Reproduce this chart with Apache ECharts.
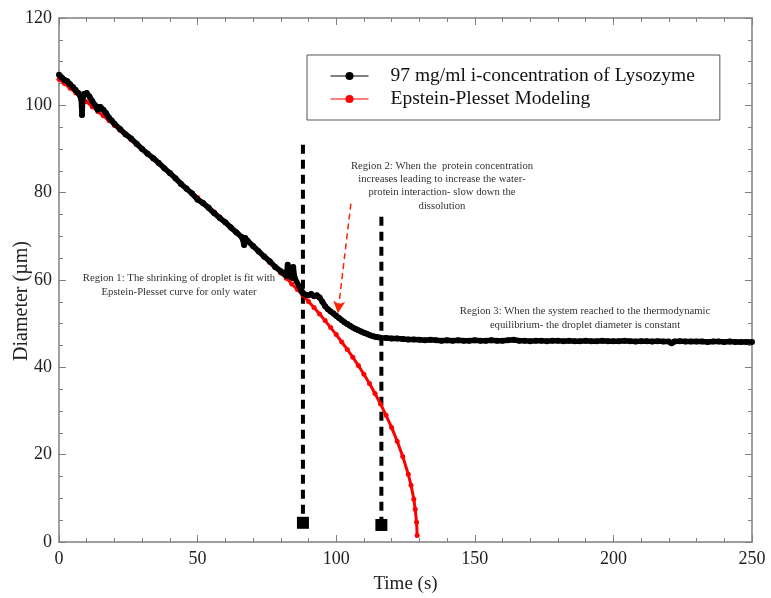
<!DOCTYPE html>
<html>
<head>
<meta charset="utf-8">
<script src="https://cdn.jsdelivr.net/npm/echarts@6/dist/echarts.min.js"></script>
<style>
html,body{margin:0;padding:0;background:#fff;}
#chart{width:771px;height:598px;}
</style>
</head>
<body>
<div id="chart"></div>
<script>
// Epstein-Plesset model (red)
var epTime = [0,2,4,6,8,10,12,14,16,18,20,22,24,26,28,30,32,34,36,38,40,42,44,46,48,50,52,54,56,58,60,62,64,66,68,70,72,74,76,78,80,82,84,86,88,90,92,94,96,98,100,102,104,106,108,110,112,114,116,118,120,122,124,126,127,128,128.5,129,129.2];
var epDiam = [106.0,105.0,103.9,102.9,101.8,100.8,99.7,98.6,97.6,96.5,95.4,94.3,93.2,92.1,91.0,89.9,88.8,87.7,86.6,85.5,84.4,83.3,82.2,81.1,80.0,78.9,77.8,76.7,75.6,74.4,73.3,72.2,71.0,69.9,68.7,67.6,66.4,65.2,64.0,62.8,61.6,60.4,59.1,57.8,56.5,55.1,53.7,52.2,50.7,49.1,47.5,45.8,44.1,42.3,40.4,38.4,36.3,34.0,31.6,29.0,26.2,23.1,19.6,15.5,13.0,9.8,7.5,4.5,1.5];

// Measured: 97 mg/ml lysozyme (black)
var lysoTime = [0,1,2,3,4,5,6,7,8,8.3,8.6,9,10,11,12,13,14,14.5,15,16,17,18,19,20,22,24,26,28,30,32,34,36,38,40,42,44,46,48,50,52,54,56,58,60,62,64,66,66.8,67.2,68,70,72,74,76,78,80,81,82,82.5,83,84,84.5,85,87.5,88,89,90,91,92,93,94,95,96,97,98,99,100,101,102,103,104,105,106,107,108,109,110,111,112,113,114,115,116,118,120,122,124,126,128,130,132,134,136,138,140,142,144,146,148,150,152,154,156,158,160,162,164,166,168,170,172,174,176,178,180,182,184,186,188,190,192,194,196,198,200,202,204,206,208,210,212,214,216,218,220,221,222,224,226,228,230,232,234,236,238,240,242,244,246,248,250];
var lysoDiam = [107.0,106.4,105.8,105.5,104.8,104.2,103.5,102.8,101.5,97.8,101.8,102.6,102.8,102.0,101.0,100.0,99.0,99.6,99.6,99.0,98.2,97.2,96.5,95.8,94.6,93.4,92.4,91.2,90.0,88.9,87.9,86.8,85.6,84.5,83.3,82.0,80.9,79.8,78.4,77.6,76.5,75.3,74.2,73.2,72.0,70.9,69.8,68.0,69.6,69.0,67.8,66.6,65.4,64.3,63.0,62.0,61.5,61.0,63.5,61.0,60.5,63.0,60.5,57.5,57.0,56.6,56.5,56.8,56.3,56.5,56.0,55.0,54.0,53.3,52.8,52.3,51.8,51.3,50.8,50.3,49.9,49.5,49.1,48.8,48.5,48.2,47.9,47.7,47.4,47.2,47.0,46.9,46.8,46.7,46.6,46.6,46.5,46.4,46.4,46.3,46.2,46.3,46.2,46.1,46.2,46.1,46.2,46.1,46.1,46.2,46.1,46.1,46.2,46.1,46.1,46.2,46.3,46.1,46.1,46.0,46.1,46.1,46.0,46.1,46.1,46.0,46.1,46.0,46.0,46.1,46.0,46.0,46.1,46.0,46.0,46.0,46.1,46.0,45.9,46.0,46.0,45.9,46.0,45.9,45.9,45.5,45.9,46.0,45.9,45.9,45.9,45.9,45.8,45.9,45.9,45.8,45.9,45.8,45.8,45.8,45.8];

// Region boundary markers
var boundaryTime = [88, 116.3];
var boundaryTop = [91, 74.5];
var boundaryBottom = [4.4, 3.9];

// Arrow (region 2 pointer)
var arrowFrom = [105.3, 77.5];
var arrowTo = [100.6, 52.4];

var legendNames = ['97 mg/ml i-concentration of Lysozyme', 'Epstein-Plesset Modeling'];
var xTicks = [0, 50, 100, 150, 200, 250];
var yTicks = [0, 20, 40, 60, 80, 100, 120];

function zip(a, b) { return a.map(function (v, i) { return [v, b[i]]; }); }

var FONT = 'Liberation Serif';
var chart = echarts.init(document.getElementById('chart'));

var series = [];
boundaryTime.forEach(function (t, i) {
  series.push({
    type: 'line', silent: true, symbol: 'none', z: 3,
    data: [[t, boundaryTop[i]], [t, boundaryBottom[i]]],
    lineStyle: { color: '#000', width: 4, type: [9, 6] }
  });
});
series.push({
  type: 'scatter', silent: true, z: 4,
  symbol: 'rect', symbolSize: 12,
  itemStyle: { color: '#000', opacity: 1 },
  data: zip(boundaryTime, boundaryBottom)
});
series.push({
  name: legendNames[1], type: 'line', z: 5,
  data: zip(epTime, epDiam),
  symbol: 'circle', symbolSize: 5, showSymbol: true, showAllSymbol: true,
  itemStyle: { color: '#ff0000' },
  lineStyle: { color: '#ff0000', width: 3 }
});
series.push({
  name: legendNames[0], type: 'line', z: 6,
  data: zip(lysoTime, lysoDiam),
  symbol: 'circle', symbolSize: 6, showSymbol: true, showAllSymbol: true,
  itemStyle: { color: '#000' },
  lineStyle: { color: '#000', width: 5.5, join: 'round' },
  markLine: {
    silent: true, symbol: ['none', 'arrow'], symbolSize: [9, 12],
    label: { show: false },
    lineStyle: { color: '#ff2200', width: 1.5, type: [6, 4] },
    data: [[{ coord: arrowFrom }, { coord: arrowTo }]]
  }
});

var tickStyle = { color: '#808080', width: 1 };
function axisBase(extra) {
  return Object.assign({
    axisLine: { show: true, onZero: false, lineStyle: { color: '#808080', width: 1.5 } },
    splitLine: { show: false }
  }, extra);
}

chart.setOption({
  backgroundColor: '#fff',
  animation: false,
  grid: { left: 59, right: 19, top: 18, bottom: 56, containLabel: false, outerBoundsMode: 'none' },
  legend: {
    data: legendNames,
    orient: 'vertical',
    left: 307, top: 55,
    padding: [10, 25, 10, 23],
    itemWidth: 38, itemHeight: 10, itemGap: 1,
    borderColor: '#555', borderWidth: 1,
    backgroundColor: '#fff',
    lineStyle: { width: 1 },
    textStyle: { fontFamily: FONT, fontSize: 19.5, color: '#111', lineHeight: 22, padding: [0, 0, 0, 17] }
  },
  xAxis: [
    axisBase({
      type: 'value', min: 0, max: 250, interval: 50, position: 'bottom',
      name: 'Time (s)', nameLocation: 'middle', nameGap: 33,
      nameTextStyle: { fontFamily: FONT, fontSize: 19, color: '#222' },
      axisTick: { inside: true, length: 7, lineStyle: tickStyle },
      minorTick: { show: true, splitNumber: 5, length: 4, lineStyle: tickStyle },
      axisLabel: { fontFamily: FONT, fontSize: 18, color: '#222', margin: 8,
        formatter: function (v) { return xTicks.indexOf(v) >= 0 ? String(v) : ''; } }
    }),
    axisBase({
      type: 'value', min: 0, max: 250, interval: 50, position: 'top',
      axisTick: { inside: true, length: 7, lineStyle: tickStyle },
      minorTick: { show: true, splitNumber: 5, length: 4, lineStyle: tickStyle },
      axisLabel: { show: false }
    })
  ],
  yAxis: [
    axisBase({
      type: 'value', min: 0, max: 120, interval: 20, position: 'left',
      axisTick: { inside: true, length: 7, lineStyle: tickStyle },
      minorTick: { show: true, splitNumber: 4, length: 4, lineStyle: tickStyle },
      axisLabel: { fontFamily: FONT, fontSize: 18, color: '#222', margin: 7,
        formatter: function (v) { return yTicks.indexOf(v) >= 0 ? String(v) : ''; } }
    }),
    axisBase({
      type: 'value', min: 0, max: 120, interval: 20, position: 'right',
      axisTick: { inside: true, length: 7, lineStyle: tickStyle },
      minorTick: { show: true, splitNumber: 4, length: 4, lineStyle: tickStyle },
      axisLabel: { show: false }
    })
  ],
  graphic: [
    { type: 'text', x: 22, y: 301, rotation: Math.PI / 2, style: { text: 'Diameter (µm)',
      font: '20px "Liberation Serif"', fill: '#222', align: 'center', verticalAlign: 'middle' }, z: 10 },
    { type: 'text', x: 179, y: 285, style: { text: 'Region 1: The shrinking of droplet is fit with\nEpstein-Plesset curve for only water',
      font: '10.7px "Liberation Serif"', fill: '#333', align: 'center', verticalAlign: 'middle', lineHeight: 14 }, z: 10 },
    { type: 'text', x: 442, y: 186, style: { text: 'Region 2: When the  protein concentration\nincreases leading to increase the water-\nprotein interaction- slow down the\ndissolution',
      font: '10.7px "Liberation Serif"', fill: '#333', align: 'center', verticalAlign: 'middle', lineHeight: 13.3 }, z: 10 },
    { type: 'text', x: 585, y: 318, style: { text: 'Region 3: When the system reached to the thermodynamic\nequilibrium- the droplet diameter is constant',
      font: '10.7px "Liberation Serif"', fill: '#333', align: 'center', verticalAlign: 'middle', lineHeight: 14 }, z: 10 }
  ],
  series: series
});
</script>
</body>
</html>
